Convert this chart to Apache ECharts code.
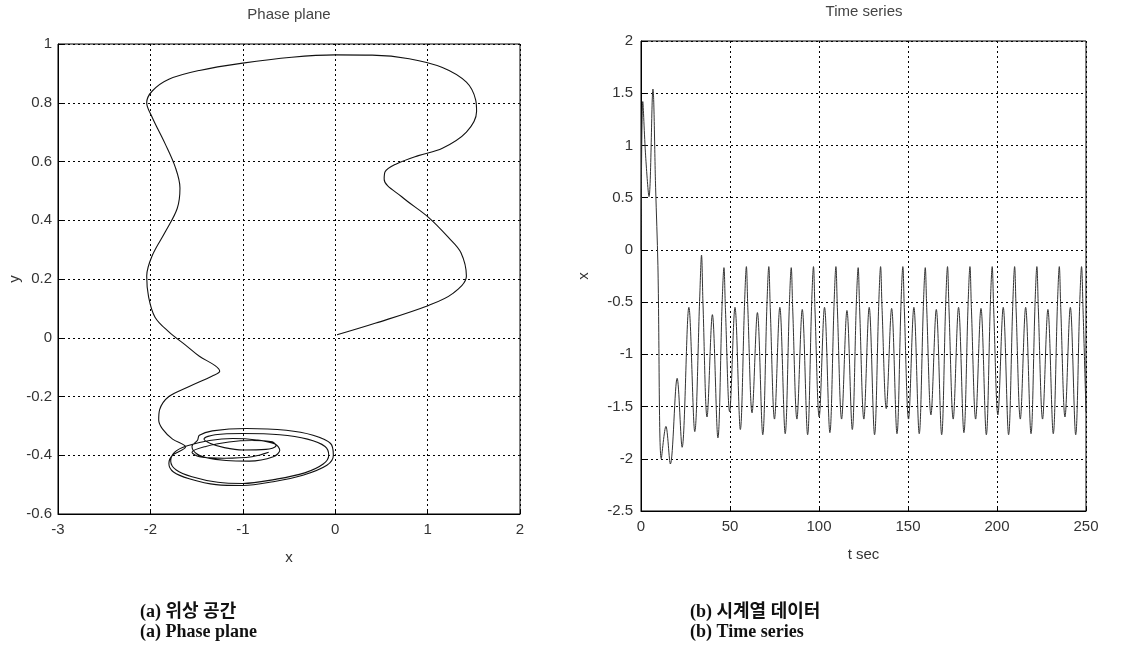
<!DOCTYPE html>
<html><head><meta charset="utf-8">
<script src="https://cdn.jsdelivr.net/npm/echarts@6/dist/echarts.min.js"></script>
<style>html,body{margin:0;padding:0;background:#fff}#c{width:1130px;height:652px}</style>
</head><body><div id="c"></div>
<script>
// ---------- Phase plane (x, y) ----------
const phaseX = [0.02,0.44,1.01,1.27,1.42,1.36,1.23,1.01,0.72,0.53,0.54,0.65,0.9,1.16,1.42,1.53,1.52,1.42,1.16,0.8,0.4,0.0,-0.47,-1.0,-1.47,-1.8,-1.98,-2.04,-1.98,-1.84,-1.73,-1.68,-1.71,-1.84,-1.98,-2.04,-2.02,-1.95,-1.8,-1.6,-1.47,-1.3,-1.25,-1.33,-1.58,-1.8,-1.9,-1.91,-1.87,-1.76,-1.62,
  -1.76,-1.80,-1.75,-1.58,-1.29,-1.0,-0.67,-0.35,-0.09,-0.02,-0.05,-0.24,-0.53,-0.96,-1.33,-1.47,-1.49,
  -1.55,-1.5,-1.4,-1.18,-0.93,-0.67,-0.6,-0.65,-0.85,-1.11,-1.36,-1.6,
  -1.74,-1.78,-1.72,-1.55,-1.27,-1.0,-0.65,-0.33,-0.13,-0.07,-0.11,-0.3,-0.6,-1.0,-1.3,-1.42,
  -1.35,-1.2,-1.0,-0.75,-0.64,-0.68,-0.9,-1.15,-1.4,-1.55,-1.47,-1.2,-0.9,-0.72];
const phaseY = [0.01,0.05,0.11,0.15,0.21,0.29,0.34,0.41,0.48,0.54,0.565,0.59,0.62,0.645,0.70,0.77,0.81,0.87,0.92,0.95,0.962,0.963,0.955,0.935,0.91,0.88,0.84,0.80,0.75,0.66,0.58,0.51,0.44,0.36,0.28,0.21,0.14,0.07,0.02,-0.03,-0.063,-0.095,-0.114,-0.13,-0.166,-0.2,-0.245,-0.28,-0.31,-0.345,-0.372,
  -0.40,-0.428,-0.457,-0.48,-0.50,-0.503,-0.49,-0.468,-0.434,-0.40,-0.36,-0.332,-0.315,-0.309,-0.317,-0.332,-0.349,
  -0.37,-0.395,-0.408,-0.418,-0.42,-0.405,-0.383,-0.362,-0.348,-0.343,-0.35,-0.368,
  -0.39,-0.42,-0.45,-0.473,-0.492,-0.496,-0.482,-0.46,-0.43,-0.40,-0.37,-0.345,-0.33,-0.326,-0.33,-0.345,
  -0.36,-0.374,-0.382,-0.38,-0.368,-0.354,-0.35,-0.355,-0.37,-0.39,-0.405,-0.41,-0.405,-0.39];

// ---------- Time series (t, x) ----------
const timeT = [0,1.0,2.6,4.5,6.7,8.2,9.5,11.4,14.0,16.5,20.3,23.1,26.9,30.2,
  33.0,34.0,34.8,37.1,40.1,43.2,
  45.6,46.6,47.4,49.8,52.8,55.8,
  58.2,59.2,60.0,62.4,65.4,68.4,
  70.8,71.8,72.6,75.0,78.0,81.0,
  83.4,84.4,85.2,87.6,90.6,93.6,
  95.9,96.9,97.7,100.1,103.1,106.1,
  108.5,109.5,110.3,112.7,115.7,118.7,
  121.0,122.0,122.8,125.2,128.2,131.2,
  133.6,134.6,135.4,137.8,140.8,143.8,
  146.1,147.1,147.9,150.3,153.3,156.3,
  158.7,159.7,160.5,162.9,165.9,168.9,
  171.2,172.2,173.0,175.4,178.4,181.4,
  183.8,184.8,185.6,188.0,191.0,194.0,
  196.3,197.3,198.1,200.5,203.5,206.5,
  208.9,209.9,210.7,213.1,216.1,219.1,
  221.4,222.4,223.2,225.6,228.6,231.6,
  234.0,235.0,235.8,238.2,241.2,244.2,
  246.5,247.5,248.3,250.0];
const timeX = [0.0,1.42,0.9,0.51,1.54,0.6,-0.15,-2.0,-1.69,-2.05,-1.23,-1.89,-0.55,-1.74,
  -0.45,-0.05,-0.5,-1.6,-0.62,-1.8,
  -0.5,-0.17,-0.55,-1.55,-0.55,-1.72,
  -0.5,-0.16,-0.55,-1.56,-0.6,-1.77,
  -0.5,-0.16,-0.55,-1.62,-0.55,-1.76,
  -0.5,-0.17,-0.55,-1.62,-0.57,-1.77,
  -0.5,-0.16,-0.55,-1.6,-0.55,-1.75,
  -0.5,-0.16,-0.55,-1.62,-0.58,-1.72,
  -0.5,-0.17,-0.55,-1.62,-0.55,-1.77,
  -0.5,-0.16,-0.55,-1.52,-0.56,-1.76,
  -0.5,-0.16,-0.55,-1.62,-0.55,-1.76,
  -0.5,-0.17,-0.55,-1.58,-0.57,-1.77,
  -0.5,-0.16,-0.55,-1.62,-0.55,-1.75,
  -0.5,-0.16,-0.55,-1.62,-0.56,-1.77,
  -0.5,-0.16,-0.55,-1.58,-0.55,-1.77,
  -0.5,-0.16,-0.55,-1.62,-0.55,-1.76,
  -0.5,-0.16,-0.55,-1.62,-0.57,-1.76,
  -0.5,-0.16,-0.55,-1.6,-0.55,-1.77,
  -0.5,-0.16,-0.55,-1.55];

// ---------- Axes ranges / labels ----------
const phaseXRange = [-3, 2, 1];
const phaseYRange = [-0.6, 1, 0.2];
const timeTRange = [0, 250, 50];
const timeXRange = [-2.5, 2, 0.5];
const titles = ['Phase plane', 'Time series'];
const axisNames = {phaseX: 'x', phaseY: 'y', timeT: 't sec', timeX: 'x'};
const captions = [['(a) 위상 공간', '(a) Phase plane'], ['(b) 시계열 데이터', '(b) Time series']];

const tickFont = "'Liberation Sans',sans-serif";
const capFont = "'Liberation Serif','Noto Sans CJK KR',serif";

function fmt(v){ return String(Math.round(v*10)/10); }

function valAxis(grid, r, extra){
  return Object.assign({
    gridIndex: grid, type: 'value', min: r[0], max: r[1], interval: r[2],
    axisLine: {show: true, onZero: false, lineStyle: {color: '#000', width: 1}},
    axisTick: {show: true, inside: true, length: 5, lineStyle: {color: '#000'}},
    splitLine: {show: true, lineStyle: {type: [2, 3], color: '#000', width: 1}},
    nameLocation: 'middle',
    nameTextStyle: {color: '#333', fontSize: 15, fontFamily: tickFont}
  }, extra);
}
function lbl(m){ return {color: '#333', fontSize: 15, fontFamily: tickFont, formatter: fmt, margin: m}; }

const chart = echarts.init(document.getElementById('c'), null, {renderer: 'canvas'});
chart.setOption({
  animation: false,
  backgroundColor: '#fff',
  grid: [
    {left: 58, top: 44, width: 462, height: 470, show: true, borderColor: '#000', borderWidth: 1},
    {left: 641, top: 41, width: 445, height: 470, show: true, borderColor: '#000', borderWidth: 1}
  ],
  xAxis: [
    valAxis(0, phaseXRange, {name: axisNames.phaseX, nameGap: 36, axisLabel: lbl(8)}),
    valAxis(1, timeTRange, {name: axisNames.timeT, nameGap: 36, axisLabel: lbl(8)})
  ],
  yAxis: [
    valAxis(0, phaseYRange, {name: axisNames.phaseY, nameGap: 33, axisLabel: lbl(6)}),
    valAxis(1, timeXRange, {name: axisNames.timeX, nameGap: 50, axisLabel: lbl(8)})
  ],
  series: [
    {type: 'line', xAxisIndex: 0, yAxisIndex: 0, showSymbol: false, smooth: 0.35,
     data: phaseX.map((x, i) => [x, phaseY[i]]),
     lineStyle: {color: '#111', width: 1.1}},
    {type: 'line', xAxisIndex: 1, yAxisIndex: 1, showSymbol: false, smooth: 0.35,
     data: timeT.map((t, i) => [t, timeX[i]]),
     lineStyle: {color: '#333', width: 1}}
  ],
  graphic: [
    {type: 'text', x: 289, y: 15, style: {text: titles[0], fill: '#444', font: "15px " + tickFont, textAlign: 'center', textVerticalAlign: 'middle'}},
    {type: 'text', x: 864, y: 12, style: {text: titles[1], fill: '#444', font: "15px " + tickFont, textAlign: 'center', textVerticalAlign: 'middle'}},
    {type: 'text', x: 140, y: 612, style: {text: captions[0][0], fill: '#111', font: "bold 18px " + capFont, textVerticalAlign: 'middle'}},
    {type: 'text', x: 140, y: 632, style: {text: captions[0][1], fill: '#111', font: "bold 18px " + capFont, textVerticalAlign: 'middle'}},
    {type: 'text', x: 690, y: 612, style: {text: captions[1][0], fill: '#111', font: "bold 18px " + capFont, textVerticalAlign: 'middle'}},
    {type: 'text', x: 690, y: 632, style: {text: captions[1][1], fill: '#111', font: "bold 18px " + capFont, textVerticalAlign: 'middle'}}
  ]
});
</script></body></html>
